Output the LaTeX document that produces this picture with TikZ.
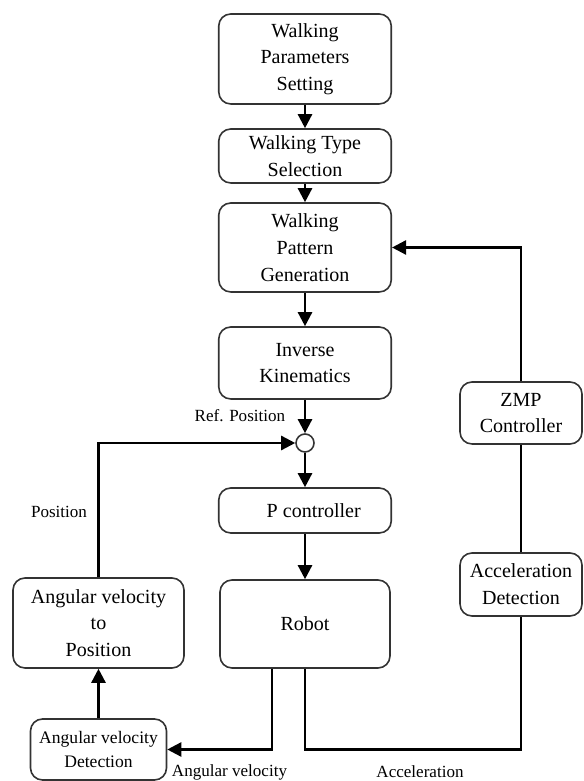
\documentclass[tikz,border=0pt]{standalone}
\usepackage{fontspec}
\setmainfont{Liberation Serif}
\usepackage{tikz}
\usetikzlibrary{arrows.meta}
\usetikzlibrary{calc}
\tikzstyle{block} = [draw=black!80,line width=0.9pt,rounded corners=2.4mm,align=center,inner sep=1mm,font=\fontsize{11.4}{15.2}\selectfont]
\tikzstyle{sum} = [draw=black!80,circle,line width=0.9pt,inner sep=0mm,minimum size=3.6mm]
\tikzstyle{lbl} = [inner sep=0.5mm,font=\fontsize{9.7}{11}\selectfont]
\tikzstyle{wire} = [line width=1.4pt]
\tikzstyle{arr} = [line width=1.4pt,-{Triangle[length=2.8mm,width=2.8mm]}]

\begin{document}
\begin{tikzpicture}[scale=1]
\useasboundingbox (0,0) rectangle (11.66,15.62);

% main column
\draw(6.1,14.44) node[block,minimum width=3.45cm,minimum height=1.8cm] (P) {Walking\\Parameters\\Setting};
\draw(6.1,12.5) node[block,minimum width=3.45cm,minimum height=1.08cm] (T) {Walking Type\\Selection};
\draw(6.1,10.67) node[block,minimum width=3.45cm,minimum height=1.78cm] (G) {Walking\\Pattern\\Generation};
\draw(6.1,8.36) node[block,minimum width=3.45cm,minimum height=1.44cm] (K) {Inverse\\Kinematics};
\draw(6.1,6.76) node[sum] (S) {};
\draw(6.1,5.41) node[block,minimum width=3.45cm,minimum height=0.9cm] (C) {\hspace*{0.35cm}P controller};
\draw(6.1,3.14) node[block,minimum width=3.4cm,minimum height=1.76cm] (R) {Robot};

% left branch
\draw(1.97,3.16) node[block,minimum width=3.42cm,minimum height=1.8cm] (V) {Angular velocity\\to\\Position};
\draw(1.97,0.63) node[block,minimum width=2.72cm,minimum height=1.22cm,font=\fontsize{10}{13.6}\selectfont] (VD) {Angular velocity\\Detection};

% right branch
\draw(10.42,7.36) node[block,minimum width=2.44cm,minimum height=1.24cm] (Z) {ZMP\\Controller};
\draw(10.42,3.93) node[block,minimum width=2.44cm,minimum height=1.26cm] (AD) {Acceleration\\Detection};

% labels
\draw(5.76,7.30) node[lbl,anchor=east] (rp) {Ref. Position};
\draw(1.18,5.38) node[lbl] (pos) {Position};
\draw(4.59,0.18) node[lbl] (av) {Angular velocity};
\draw(8.4,0.18) node[lbl] (acc) {Acceleration};

% connectors
\draw[arr] (P) -- (T);
\draw[arr] (T) -- (G);
\draw[arr] (G) -- (K);
\draw[arr] (K) -- (S);
\draw[arr] (S) -- (C);
\draw[arr] (C) -- (R);
\draw[arr] (VD) -- (V);
\draw[arr] (V.north) |- (S.west);
\draw[arr] ($(R.south)+(-0.66,0)$) |- (VD.east);
\draw[wire] (R.south) |- (VD.east -| AD.south) -- (AD.south);
\draw[wire] (AD) -- (Z);
\draw[arr] (Z.north) |- (G.east);

\end{tikzpicture}
\end{document}
